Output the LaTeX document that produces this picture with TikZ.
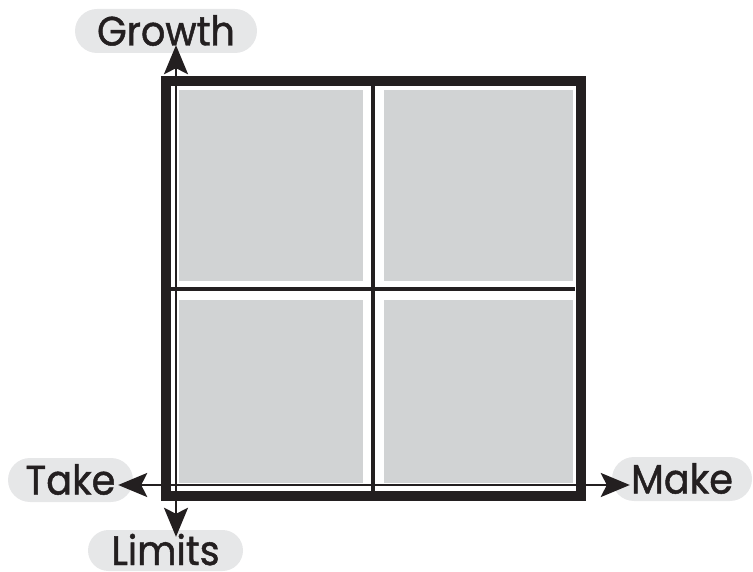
\documentclass[tikz,border=0pt]{standalone}
\usepackage{fontspec}
\setmainfont{Poppins}[FakeStretch=0.93,FakeBold=1.2]
\usetikzlibrary{positioning,arrows.meta,shapes.misc}
\definecolor{ink}{HTML}{231F20}
\definecolor{cellgray}{HTML}{D1D3D4}
\definecolor{pillgray}{HTML}{E6E7E8}

\tikzset{
  axisarrow/.style={draw=ink, line width=2.6pt, ->,
    >={Stealth[length=29pt,width=24pt,inset=6pt]}},
}

\begin{document}
\begin{tikzpicture}[x=1pt,y=-1pt,
    pill/.style={rounded rectangle, fill=pillgray, text=ink, minimum height=44pt,
      inner xsep=0pt, inner ysep=0pt, text height=29pt, text depth=0pt,
      font=\fontsize{41}{41}\selectfont},
    cell/.style={fill=cellgray},
    divider/.style={draw=ink, line width=4.5pt}]

	\useasboundingbox (0,0) rectangle (753,572);

	% the four quadrants
	\fill[cell] (179,90) rectangle (363,281);
	\fill[cell] (384,90) rectangle (573,281);
	\fill[cell] (179,300) rectangle (363,483);
	\fill[cell] (384,300) rectangle (573,483);

	\draw[divider] (373,86) -- (373,491);
	\draw[divider] (171,289) -- (575,289);

	\draw[ink, line width=10pt] (166,81) rectangle (581,496);

	% axis labels
	\node[pill, minimum width=182pt] (growth) at (166,31) {Growth};
	\node[pill, minimum width=125pt] (take) at (70.5,480) {Take};
	\node[pill, minimum width=155pt, minimum height=41pt] (limits) at (165.5,550.5) {Limits};
	\node[pill, minimum width=140pt] (make) at (682,479) {Make};

	\coordinate (o) at (176,485);
	\draw[axisarrow, shorten >=-8pt] (o) -- (o |- growth.south);
	\draw[axisarrow, shorten >=-7pt] (o) -- (o |- limits.north);
	\draw[axisarrow, shorten >=-15pt] (o) -- (o -| take.east);
	\draw[axisarrow, shorten >=-18pt] (o) -- (o -| make.west);

\end{tikzpicture}
\end{document}
